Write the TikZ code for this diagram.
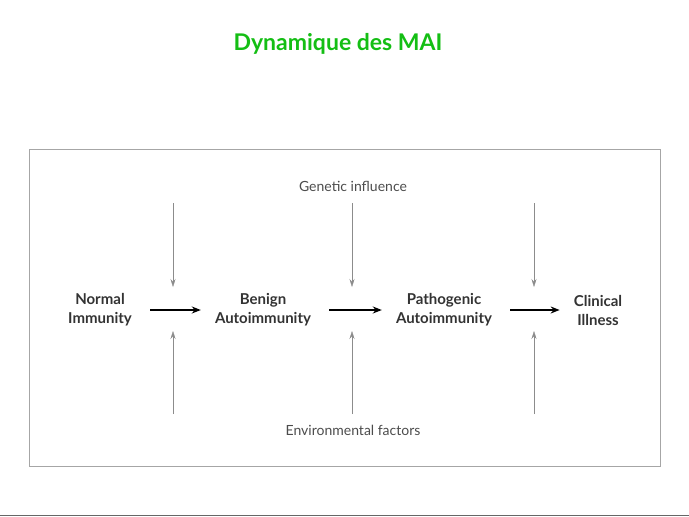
\documentclass[tikz,border=0pt]{standalone}
\usepackage{fontspec}
\setmainfont{Lato}
\usetikzlibrary{positioning, arrows.meta}
\definecolor{titlegreen}{RGB}{20,190,20}
\begin{document}
\begin{tikzpicture}[x=1pt,y=-1pt]
    
    \tikzstyle{stage} = [align=center, font=\fontsize{15}{19}\selectfont\bfseries, text=black!80, inner sep=0pt]
    \tikzstyle{factor} = [font=\fontsize{14}{16}\selectfont, text=black!70]
    \tikzstyle{arrow} = [line width=1.5pt, -{Stealth[length=9pt, width=7pt]}, shorten <=18pt, shorten >=14pt]
    \tikzstyle{influence} = [draw=black!45, thin, -{Stealth[length=8pt, width=5pt]}]
    
    \useasboundingbox (0,0) rectangle (689,517);
    \node[font=\fontsize{23}{26}\selectfont\bfseries, text=titlegreen] (title) at (338,44) {Dynamique des MAI};
    \draw[black!35] (29,149) rectangle (660,466);
    \draw[black!60, line width=1pt] (0,515) -- (689,515);
    
    \node[stage] (norm) at (100,310) {Normal\\Immunity};
    \node[stage] (ben)  at (263,310) {Benign\\Autoimmunity};
    \node[stage] (path) at (444,310) {Pathogenic\\Autoimmunity};
    \node[stage] (clin) at (598,310) {Clinical\\Illness};
    \node[factor] (gen) at (353,186) {Genetic influence};
    \node[factor] (env) at (353,430) {Environmental factors};
    
    \draw[arrow] (norm) -- (ben);
    \draw[arrow] (ben)  -- (path);
    \draw[arrow] (path) -- (clin);
    
    \foreach \x in {173,352,534} {
        \coordinate (top\x) at (\x,203);
        \coordinate (tip\x) at (\x,287);
        \coordinate (bot\x) at (\x,414);
        \coordinate (end\x) at (\x,331);
        \draw[influence] (top\x) -- (tip\x);
        \draw[influence] (bot\x) -- (end\x);
    }
    
\end{tikzpicture}
\end{document}
